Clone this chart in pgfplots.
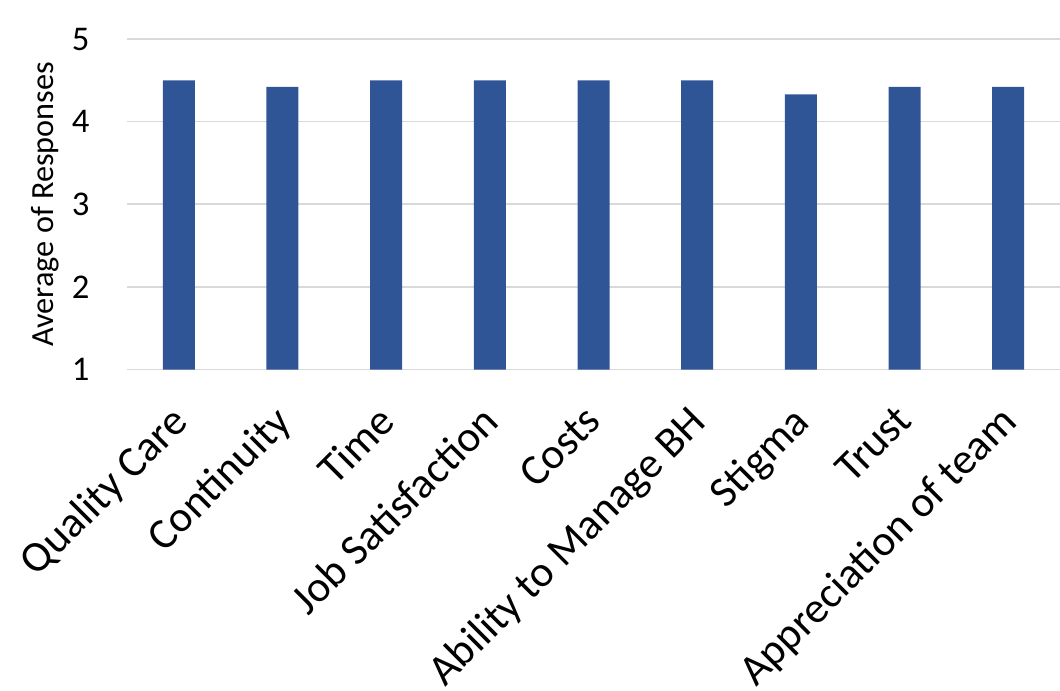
\documentclass[border=0pt]{standalone}
\usepackage{pgfplots}
\pgfplotsset{compat=1.18}
\usepackage{fontspec}
\setmainfont{Carlito}
\definecolor{barblue}{RGB}{47,85,151}
\definecolor{gridgray}{RGB}{217,217,217}

\begin{document}
\begin{tikzpicture}
\begin{axis}[
  scale only axis,
  width=699.75pt, height=247.9pt,
  xmin=-0.5, xmax=8.5,
  ymin=1, ymax=5,
  ytick={1,2,3,4,5},
  xtick=data,
  xticklabels={Quality Care, Continuity, Time, Job Satisfaction, Costs,
    Ability to Manage BH, Stigma, Trust, Appreciation of team},
  axis line style={draw=none},
  major tick length=0pt,
  ymajorgrids,
  grid style={gridgray, line width=1.2pt},
  /pgf/number format/assume math mode=true,
  yticklabel style={font=\fontsize{26}{30}\selectfont, inner sep=0pt, xshift=-28pt},
  xticklabel style={font=\fontsize{32.5}{36}\selectfont, inner sep=0pt, anchor=north east, xshift=-7.8pt, yshift=-25pt, rotate=45},
  ylabel={Average of Responses},
  ylabel style={font=\fontsize{24.2}{27}\selectfont, at={(axis description cs:-0.0879,0.5)}, anchor=center, rotate=0},
  clip=false,
]
\addplot[ybar, bar width=24pt, fill=barblue, draw=none] coordinates {
  (0,4.5) (1,4.42) (2,4.5) (3,4.5) (4,4.5) (5,4.5) (6,4.33) (7,4.42) (8,4.42)
};
\end{axis}
\pgfresetboundingbox
\path[use as bounding box] ([shift={(-95.25pt,-240.4pt)}]current axis.south west) rectangle ([shift={(0pt,29.25pt)}]current axis.north east);
\end{tikzpicture}
\end{document}
